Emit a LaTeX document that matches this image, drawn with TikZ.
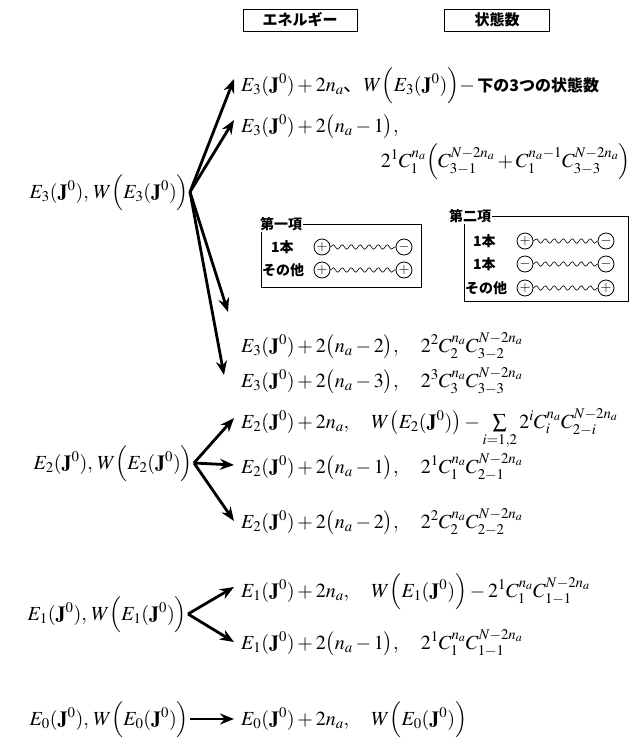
\documentclass[tikz,border=0pt]{standalone}
\usepackage{mathptmx}
\usepackage{amsmath}
\usepackage{fontspec}
\newfontfamily\jp{Noto Sans CJK JP}
\usetikzlibrary{arrows.meta,decorations.pathmorphing}

\begin{document}
\begin{tikzpicture}[x=1pt,y=-1pt,
		hdr/.style={draw, thick, minimum height=22pt, inner sep=2pt, font=\jp\bfseries\fontsize{15}{17}\selectfont},
		eq/.style={anchor=base west, inner sep=1pt, font=\fontsize{20}{24}\selectfont},
		src/.style={eq, anchor=base east},
		jtxt/.style={anchor=west, inner sep=1pt, font=\jp\bfseries\fontsize{14}{16}\selectfont},
		pm/.style={circle, draw, thick, inner sep=0pt, minimum size=16pt, font=\fontsize{14}{14}\selectfont},
		wave/.style={decorate, decoration={snake, segment length=9pt, amplitude=2.2pt}, semithick},
		arr/.style={line width=2.8pt, -{Stealth[length=14pt,width=11pt]}}]
		\useasboundingbox (0,0) rectangle (635,747);

		% Column headers
		\node[hdr, minimum width=114pt] (hE) at (300,20) {エネルギー};
		\node[hdr, minimum width=105pt] (hS) at (497,20) {状態数};

		% E_3 level and its four branches
		\node[src] (s3) at (190,198) {$E_3(\mathbf{J}^0),\,W\Bigl(E_3(\mathbf{J}^0)\Bigr)$};
		\node[eq] (t31) at (240,91) {$E_3(\mathbf{J}^0)+2n_a${\jp 、}$W\Bigl(E_3(\mathbf{J}^0)\Bigr)-${\jp\bfseries\fontsize{16}{18}\selectfont\,下の3つの状態数}};
		\node[eq] (t32) at (240,132) {$E_3(\mathbf{J}^0)+2\bigl(n_a-1\bigr),$};
		\node[eq, anchor=base east] (t32c) at (632,167) {$2^1C_1^{n_a}\Bigl(C_{3-1}^{N-2n_a}+C_1^{n_a-1}C_{3-3}^{N-2n_a}\Bigr)$};
		\node[eq] (t33) at (240,352) {$E_3(\mathbf{J}^0)+2\bigl(n_a-2\bigr),\quad 2^2C_2^{n_a}C_{3-2}^{N-2n_a}$};
		\node[eq] (t34) at (240,387) {$E_3(\mathbf{J}^0)+2\bigl(n_a-3\bigr),\quad 2^3C_3^{n_a}C_{3-3}^{N-2n_a}$};

		\draw[arr] ([yshift=6pt]s3.base east) -- ([xshift=-6pt,yshift=12pt]t31.base west);
		\draw[arr] ([yshift=6pt]s3.base east) -- ([xshift=-6pt,yshift=12pt]t32.base west);
		\draw[arr] ([yshift=6pt]s3.base east) -- ([xshift=-12pt,yshift=40pt]t33.base west);
		\draw[arr] ([yshift=6pt]s3.base east) -- ([xshift=-16pt,yshift=12pt]t34.base west);

		% First term inset
		\draw[thick] (261,224) rectangle (421,287);
		\node[jtxt, fill=white] (k1) at (259,224) {第一項};
		\foreach \r/\xx/\yy/\lab/\a/\b in {1/270/247/1本/+/-, 2/261/270/その他/+/+} {
				\node[jtxt] (l1\r) at (\xx,\yy) {\lab};
				\node[pm] (a1\r) at (322,\yy) {$\boldsymbol{\a}$};
				\node[pm] (b1\r) at (404,\yy) {$\boldsymbol{\b}$};
				\draw[wave] (a1\r) -- (b1\r);
			}

		% Second term inset
		\draw[thick] (464,216) rectangle (628,301);
		\node[jtxt, fill=white] (k2) at (448,216) {第二項};
		\foreach \r/\xx/\yy/\lab/\a/\b in {1/472/241/1本/+/-, 2/472/264/1本/-/-, 3/464/288/その他/+/+} {
				\node[jtxt] (l2\r) at (\xx,\yy) {\lab};
				\node[pm] (a2\r) at (525,\yy) {$\boldsymbol{\a}$};
				\node[pm] (b2\r) at (606,\yy) {$\boldsymbol{\b}$};
				\draw[wave] (a2\r) -- (b2\r);
			}

		% E_2 level
		\node[src] (s2) at (194,469) {$E_2(\mathbf{J}^0),\,W\Bigl(E_2(\mathbf{J}^0)\Bigr)$};
		\node[eq] (t21) at (240,428) {$E_2(\mathbf{J}^0)+2n_a,\quad W\bigl(E_2(\mathbf{J}^0)\bigr)-\sum\limits_{i=1,2}2^iC_i^{n_a}C_{2-i}^{N-2n_a}$};
		\node[eq] (t22) at (240,473) {$E_2(\mathbf{J}^0)+2\bigl(n_a-1\bigr),\quad 2^1C_1^{n_a}C_{2-1}^{N-2n_a}$};
		\node[eq] (t23) at (240,528) {$E_2(\mathbf{J}^0)+2\bigl(n_a-2\bigr),\quad 2^2C_2^{n_a}C_{2-2}^{N-2n_a}$};

		\draw[arr] ([yshift=6pt]s2.base east) -- ([xshift=-6pt,yshift=10pt]t21.base west);
		\draw[arr] ([yshift=6pt]s2.base east) -- ([xshift=-6pt,yshift=8pt]t22.base west);
		\draw[arr] ([yshift=6pt]s2.base east) -- ([xshift=-6pt,yshift=7pt]t23.base west);

		% E_1 level
		\node[src] (s1) at (188,620) {$E_1(\mathbf{J}^0),\,W\Bigl(E_1(\mathbf{J}^0)\Bigr)$};
		\node[eq] (t11) at (240,597) {$E_1(\mathbf{J}^0)+2n_a,\quad W\Bigl(E_1(\mathbf{J}^0)\Bigr)-2^1C_1^{n_a}C_{1-1}^{N-2n_a}$};
		\node[eq] (t12) at (240,649) {$E_1(\mathbf{J}^0)+2\bigl(n_a-1\bigr),\quad 2^1C_1^{n_a}C_{1-1}^{N-2n_a}$};

		\draw[arr] ([yshift=6pt]s1.base east) -- ([xshift=-6pt,yshift=10pt]t11.base west);
		\draw[arr] ([yshift=6pt]s1.base east) -- ([xshift=-6pt,yshift=7pt]t12.base west);

		% E_0 level
		\node[src] (s0) at (190,725) {$E_0(\mathbf{J}^0),\,W\Bigl(E_0(\mathbf{J}^0)\Bigr)$};
		\node[eq] (t01) at (240,725) {$E_0(\mathbf{J}^0)+2n_a,\quad W\Bigl(E_0(\mathbf{J}^0)\Bigr)$};

		\draw[arr] ([yshift=6pt]s0.base east) -- ([xshift=-6pt,yshift=6pt]t01.base west);
	\end{tikzpicture}
\end{document}
